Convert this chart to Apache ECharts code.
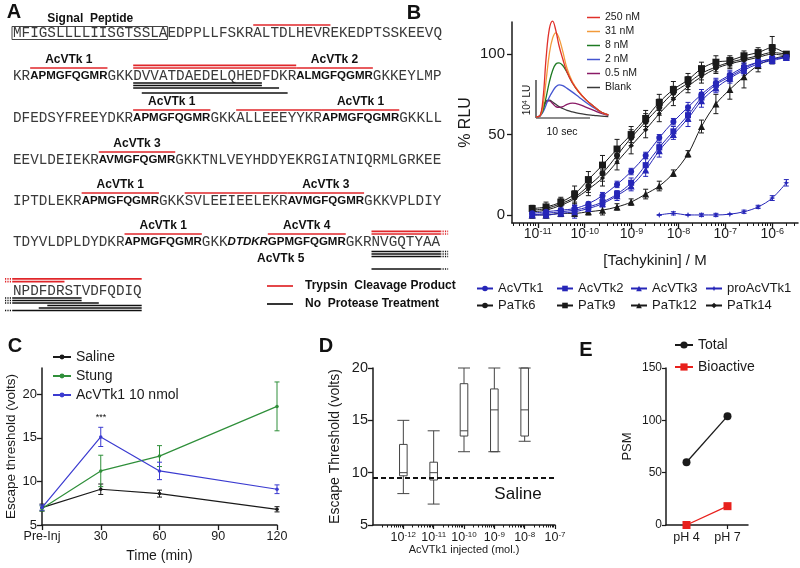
<!DOCTYPE html>
<html>
<head>
<meta charset="utf-8">
<script src="https://cdn.jsdelivr.net/npm/echarts@6/dist/echarts.min.js"></script>
<style>
html, body { margin: 0; padding: 0; background: #fff; }
#chart { width: 800px; height: 568px; }
</style>
</head>
<body>
<div id="chart"></div>
<script>
const SANS = '"Liberation Sans", Arial, sans-serif';
const MONO = '"Liberation Mono", "Courier New", monospace';
const BLUE = '#2626b8';
const INK = '#1a1a1a';

// ---------- panel A: precursor sequence ----------
// segments: m = plain residues, b = bold peptide, bi = bold italic
const seqRows = [
  [['MFIGSLLLLIISGTSSLAEDPPLLFSKRALTDLHEVREKEDPTSSKEEVQ', 'm']],
  [['KR', 'm'], ['APMGFQGMR', 'b'], ['GKKDVVATDAEDELQHEDFDKR', 'm'], ['ALMGFQGMR', 'b'], ['GKKEYLMP', 'm']],
  [['DFEDSYFREEYDKR', 'm'], ['APMGFQGMR', 'b'], ['GKKALLEEEYYKR', 'm'], ['APMGFQGMR', 'b'], ['GKKLL', 'm']],
  [['EEVLDEIEKR', 'm'], ['AVMGFQGMR', 'b'], ['GKKTNLVEYHDDYEKRGIATNIQRMLGRKEE', 'm']],
  [['IPTDLEKR', 'm'], ['APMGFQGMR', 'b'], ['GKKSVLEEIEELEKR', 'm'], ['AVMGFQGMR', 'b'], ['GKKVPLDIY', 'm']],
  [['TDYVLDPLDYDKR', 'm'], ['APMGFQGMR', 'b'], ['GKK', 'm'], ['DTDKR', 'bi'], ['GPMGFQGMR', 'b'], ['GKRNVGQTYAA', 'm']],
  [['NPDFDRSTVDFQDIQ', 'm']]
];
// [row, firstResidue, endResidue, label]
const peptideTags = [
  [1, 2, 11, 'AcVTk 1'], [1, 33, 42, 'AcVTk 2'],
  [2, 14, 23, 'AcVTk 1'], [2, 36, 45, 'AcVTk 1'],
  [3, 10, 19, 'AcVTk 3'],
  [4, 8, 17, 'AcVTk 1'], [4, 32, 41, 'AcVTk 3'],
  [5, 13, 22, 'AcVTk 1'], [5, 30, 39, 'AcVTk 4']
];
// [row, first, end, stack level, continues ('L' / 'R' / '')]
const trypsinHits = [
  [0, 28, 37, 0, ''],
  [1, 14, 33, 0, ''], [1, 14, 33, 1, ''],
  [2, 26, 36, 0, ''],
  [4, 20, 32, 0, ''],
  [5, 42, 50, 0, 'R'], [5, 42, 50, 1, 'R'],
  [6, 0, 15, 1.6, 'L'], [6, 0, 6, 0.5, 'L']
];
const nativeHits = [
  [1, 14, 29, 0, ''], [1, 14, 29, 1, ''], [1, 14, 31, 2, ''], [1, 15, 32, 4, ''],
  [5, 42, 50, 1, 'R'], [5, 42, 50, 2, 'R'], [5, 42, 50, 3, 'R'], [5, 42, 50, 8, 'R'],
  [6, 0, 8, 0, 'L'], [6, 0, 8, 1, 'L'], [6, 0, 10, 2, 'L'], [6, 4, 15, 3, ''], [6, 3, 15, 4, ''], [6, 0, 15, 5, 'L']
];
const signalPeptide = [0, 0, 18, 'Signal  Peptide'];
const acvtk5Tag = [5, 25, 39, 'AcVTk 5'];

// ---------- panel B: dose response ----------
const doseB = [7.6e-12, 1.5e-11, 3.1e-11, 6.1e-11, 1.2e-10, 2.4e-10, 4.9e-10, 9.8e-10, 2.0e-9, 3.9e-9,
  7.8e-9, 1.6e-8, 3.1e-8, 6.3e-8, 1.25e-7, 2.5e-7, 5.0e-7, 1.0e-6, 2.0e-6];
const acvtk1 = [1, 2, 3, 4, 7, 12, 19, 27, 37, 48, 58, 67, 75, 82, 87, 92, 95, 97, 98];
const acvtk2 = [0, 1, 2, 3, 5, 8, 13, 20, 31, 42, 52, 62, 73, 81, 86, 91, 95, 97, 98];
const acvtk3 = [0, 0, 1, 2, 4, 7, 12, 18, 28, 40, 50, 60, 71, 79, 85, 90, 94, 96, 98];
const proAcvtk1 = [0, 1, 0, 0, 0, 0.5, 2, 5, 10.5, 20];
const doseProAcvtk1 = doseB.slice(9);
const patk6 = [3, 4, 7, 11, 18, 26, 37, 48, 58, 67, 76, 82, 88, 92, 95, 97, 99, 101, 100];
const patk9 = [4, 5, 8, 13, 22, 31, 41, 50, 60, 70, 78, 84, 91, 95, 96, 99, 101, 104, 100];
const patk12 = [0, 0, 1, 1, 2, 3, 5, 8, 13, 18, 26, 38, 55, 69, 78, 86, 93, 97, 99];
const patk14 = [2, 3, 6, 10, 16, 23, 33, 43, 53, 63, 72, 80, 86, 91, 94, 96, 98, 100, 99];
const errAcvtk1 = [1, 1, 2, 2, 1, 2, 2, 2, 2, 2, 2, 3, 3, 3, 3, 3, 2, 2, 1];
const errAcvtk2 = [1, 2, 2, 3, 2, 2, 2, 3, 4, 3, 3, 3, 3, 3, 3, 3, 2, 2, 1];
const errAcvtk3 = [1, 1, 2, 4, 2, 2, 3, 3, 4, 4, 3, 5, 4, 3, 3, 3, 3, 2, 1];
const errProAcvtk1 = [0, 1, 0, 1, 1, 0, 1, 1, 1.5, 2];
const errPatk6 = [2, 2, 3, 4, 4, 5, 5, 5, 5, 5, 4, 4, 4, 3, 3, 3, 3, 5, 1];
const errPatk9 = [2, 3, 3, 5, 5, 6, 6, 5, 5, 5, 5, 4, 4, 4, 3, 3, 3, 7, 1];
const errPatk12 = [2, 2, 2, 2, 2, 3, 2, 2, 3, 3, 2, 2, 4, 6, 6, 7, 4, 3, 1];
const errPatk14 = [2, 2, 3, 4, 4, 5, 5, 5, 5, 5, 4, 4, 4, 3, 3, 3, 3, 4, 1];
const decadesB = [-11, -10, -9, -8, -7, -6];

// inset: luminescence traces (x 10^4 LU) vs time (s)
const traceTime = [0, 0.7, 1.3, 1.9, 2.5, 3.1, 3.7, 4.3, 5.0, 5.8, 6.8, 8.0, 9.4, 10.8, 12.2, 13.5];
const trace250 = [0.03, 0.05, 0.5, 1.6, 2.35, 2.55, 2.3, 1.9, 1.55, 1.2, 0.92, 0.68, 0.47, 0.3, 0.15, 0.08];
const trace31 = [0.03, 0.05, 0.3, 1.0, 1.7, 2.1, 2.24, 2.1, 1.75, 1.3, 0.95, 0.69, 0.47, 0.3, 0.15, 0.08];
const trace8 = [0.03, 0.05, 0.2, 0.55, 0.95, 1.25, 1.42, 1.45, 1.38, 1.2, 0.92, 0.68, 0.47, 0.3, 0.15, 0.08];
const trace2 = [0.03, 0.05, 0.15, 0.35, 0.55, 0.7, 0.82, 0.87, 0.85, 0.78, 0.68, 0.55, 0.4, 0.27, 0.15, 0.08];
const trace05 = [0.03, 0.05, 0.25, 0.42, 0.45, 0.38, 0.3, 0.28, 0.3, 0.36, 0.39, 0.36, 0.28, 0.2, 0.12, 0.07];
const traceBlank = [0.03, 0.05, 0.3, 0.45, 0.47, 0.42, 0.36, 0.3, 0.25, 0.2, 0.16, 0.12, 0.09, 0.07, 0.05, 0.04];

// ---------- panel C: escape threshold time course ----------
const timeC = [0, 30, 60, 120];
const saline = [7.0, 9.1, 8.6, 6.8];
const salineErr = [0.4, 0.6, 0.4, 0.3];
const stung = [6.9, 11.2, 12.9, 18.6];
const stungErr = [0.3, 1.8, 1.2, 2.8];
const acvtkDose = [7.0, 15.1, 11.2, 9.1];
const acvtkDoseErr = [0.3, 1.1, 1.0, 0.5];

// ---------- panel D: dose vs threshold boxes ----------
const doseD = [1e-12, 1e-11, 1e-10, 1e-9, 1e-8];
// [min, q1, median, q3, max]
const boxD = [[8, 9.7, 10, 12.7, 15], [7, 9.3, 10, 11, 14], [12, 13.5, 14, 18.5, 20], [12, 12, 16, 18, 20], [13, 13.5, 16, 20, 20]];
const salineLevel = 9.5;
const decadesD = [-12, -11, -10, -9, -8, -7];

// ---------- panel E: PSM ----------
const phCats = ['pH 4', 'pH 7'];
const psmTotal = [60, 104];
const psmBioactive = [0, 18];

// ---------- helpers ----------
const lg = v => Math.log10(v);
function minorTicks(lo, hi) {
  const out = [];
  for (let n = Math.floor(lo); n <= Math.ceil(hi); n++) {
    for (let k = 2; k <= 9; k++) {
      const t = n + Math.log10(k);
      if (t > lo && t < hi) out.push(t);
    }
  }
  return out;
}
const powRich = {
  b: { fontSize: 14, fontFamily: SANS, color: INK },
  s: { fontSize: 9, fontFamily: SANS, color: INK, verticalAlign: 'top' }
};
const powLabel = v => '{b|10}{s|' + Math.round(v) + '}';

function errorBars(xi, yi, pts, color, cap) {
  return {
    type: 'custom', xAxisIndex: xi, yAxisIndex: yi, silent: true, z: 3,
    data: pts,
    renderItem: (params, api) => {
      const x = api.value(0), y = api.value(1), e = api.value(2);
      const hi = api.coord([x, y + e]), lo = api.coord([x, y - e]);
      const st = { stroke: color, lineWidth: 1 };
      return {
        type: 'group', children: [
          { type: 'line', shape: { x1: hi[0], y1: hi[1], x2: lo[0], y2: lo[1] }, style: st },
          { type: 'line', shape: { x1: hi[0] - cap, y1: hi[1], x2: hi[0] + cap, y2: hi[1] }, style: st },
          { type: 'line', shape: { x1: lo[0] - cap, y1: lo[1], x2: lo[0] + cap, y2: lo[1] }, style: st }
        ]
      };
    }
  };
}

function axisStyle(extra) {
  return Object.assign({
    axisLine: { show: true, onZero: false, lineStyle: { color: INK, width: 1.5 } },
    axisTick: { show: true, inside: false, length: 5, lineStyle: { color: INK, width: 1.3 } },
    splitLine: { show: false },
    nameMoveOverlap: false
  }, extra);
}

// ---------- build panel A graphics ----------
const rowY = [33, 76, 118, 160, 201, 242, 291];
const SEQ_LEFT = 13;
const fontOf = {
  m: '14.3px ' + MONO,
  b: 'bold 11.5px ' + SANS,
  bi: 'italic bold 11.5px ' + SANS
};
const graphics = [];
const measure = document.createElement('canvas').getContext('2d');
const residueX = seqRows.map((row, r) => {
  let x = SEQ_LEFT;
  const bounds = [x];
  row.forEach(([txt, st]) => {
    graphics.push({
      type: 'text', silent: true,
      style: { x: x, y: rowY[r], text: txt, font: fontOf[st], fill: st === 'm' ? '#3a3a3a' : '#111',
        verticalAlign: 'middle', textVerticalAlign: 'middle' }
    });
    measure.font = fontOf[st];
    for (let i = 1; i <= txt.length; i++) bounds.push(x + measure.measureText(txt.slice(0, i)).width);
    x += measure.measureText(txt).width;
  });
  return bounds;
});
function label(x, y, text, size, extra) {
  graphics.push({
    type: 'text', silent: true,
    style: Object.assign({ x: x, y: y, text: text, font: 'bold ' + size + 'px ' + SANS, fill: '#111',
      align: 'center', textAlign: 'center', verticalAlign: 'middle', textVerticalAlign: 'middle' }, extra || {})
  });
}
function seg(x1, y, x2, color, w) {
  graphics.push({ type: 'line', silent: true, shape: { x1: x1, y1: y, x2: x2, y2: y }, style: { stroke: color, lineWidth: w } });
}
function hitLine(h, color, above) {
  const [r, a, b, lvl, cont] = h;
  const xs = residueX[r];
  const y = above ? rowY[r] - 8 - 2.6 * lvl : rowY[r] + 7 + 2.5 * lvl;
  seg(xs[a], y, xs[b], color, 1.7);
  const dash = { stroke: color, lineWidth: 1.7, lineDash: [1.2, 1.2] };
  if (cont === 'R') graphics.push({ type: 'line', silent: true, shape: { x1: xs[b], y1: y, x2: xs[b] + 8, y2: y }, style: dash });
  if (cont === 'L') graphics.push({ type: 'line', silent: true, shape: { x1: xs[a] - 8, y1: y, x2: xs[a], y2: y }, style: dash });
}
peptideTags.forEach(([r, a, b, t]) => {
  const xs = residueX[r];
  seg(xs[a], rowY[r] - 8, xs[b], '#e0262a', 1.7);
  label((xs[a] + xs[b]) / 2, rowY[r] - 16, t, 12);
});
trypsinHits.forEach(h => hitLine(h, '#e0262a', true));
nativeHits.forEach(h => hitLine(h, '#111', false));
{
  const [r, a, b, t] = signalPeptide;
  const xs = residueX[r];
  graphics.push({ type: 'rect', silent: true, shape: { x: xs[a] - 1, y: rowY[r] - 6.5, width: xs[b] - xs[a] + 1, height: 13 },
    style: { fill: 'none', stroke: '#444', lineWidth: 1 } });
  label((xs[a] + xs[b]) / 2, rowY[r] - 14, t, 12);
}
{
  const [r, a, b, t] = acvtk5Tag;
  const xs = residueX[r];
  label((xs[a] + xs[b]) / 2 - 6, rowY[r] + 17, t, 12);
}
seg(267, 286, 293, '#e0262a', 1.7);
seg(267, 304, 293, '#111', 1.7);
label(305, 286, 'Trypsin  Cleavage Product', 12, { align: 'left', textAlign: 'left' });
label(305, 304, 'No  Protease Treatment', 12, { align: 'left', textAlign: 'left' });

// panel letters
[['A', 14, 12], ['B', 414, 13], ['C', 15, 346], ['D', 326, 346], ['E', 586, 350]].forEach(([t, x, y]) => label(x, y, t, 20));

// inset scale bars
seg(536, 118, 590, INK, 1.2);
graphics.push({ type: 'line', silent: true, shape: { x1: 536, y1: 80, x2: 536, y2: 118 }, style: { stroke: INK, lineWidth: 1.2 } });
graphics.push({ type: 'text', silent: true, rotation: Math.PI / 2, x: 527, y: 100,
  style: { x: 0, y: 0, text: '{a|10}{p|4}{a| LU}', fill: INK, align: 'center', textAlign: 'center', verticalAlign: 'middle', textVerticalAlign: 'middle',
    rich: { a: { fontSize: 10, fontFamily: SANS, fill: INK }, p: { fontSize: 7, fontFamily: SANS, fill: INK, verticalAlign: 'top' } } } });
label(562, 132, '10 sec', 10.5, { font: '10.5px ' + SANS });
label(101, 418, '***', 9, { font: '9px ' + SANS });
label(518, 494, 'Saline', 17, { font: '17px ' + SANS });

// ---------- series ----------
const series = [];
const bDefs = [
  ['PaTk12', patk12, errPatk12, INK, 'triangle', 7],
  ['PaTk14', patk14, errPatk14, INK, 'diamond', 5],
  ['PaTk6', patk6, errPatk6, INK, 'circle', 6],
  ['PaTk9', patk9, errPatk9, INK, 'rect', 7],
  ['AcVTk3', acvtk3, errAcvtk3, BLUE, 'triangle', 7],
  ['AcVTk2', acvtk2, errAcvtk2, BLUE, 'rect', 6],
  ['AcVTk1', acvtk1, errAcvtk1, BLUE, 'circle', 6]
];
bDefs.forEach(([name, vals, errs, color, sym, size]) => {
  series.push(errorBars(0, 0, doseB.map((d, i) => [lg(d), vals[i], errs[i]]), color, 2.5));
  series.push({
    name: name, type: 'line', xAxisIndex: 0, yAxisIndex: 0, smooth: 0.35,
    symbol: sym, symbolSize: size, showAllSymbol: true,
    itemStyle: { color: color }, lineStyle: { color: color, width: 1 },
    data: doseB.map((d, i) => [lg(d), vals[i]]), z: 4
  });
});
series.push(errorBars(0, 0, doseProAcvtk1.map((d, i) => [lg(d), proAcvtk1[i], errProAcvtk1[i]]), BLUE, 2.5));
series.push({
  name: 'proAcVTk1', type: 'line', xAxisIndex: 0, yAxisIndex: 0, smooth: 0.35,
  symbol: 'path://M0,-5L1.4,-1.4L5,0L1.4,1.4L0,5L-1.4,1.4L-5,0L-1.4,-1.4Z', symbolSize: 6,
  itemStyle: { color: BLUE }, lineStyle: { color: BLUE, width: 1 },
  data: doseProAcvtk1.map((d, i) => [lg(d), proAcvtk1[i]]), z: 4
});

const insetDefs = [
  ['Blank', traceBlank, '#3a3a3a'], ['0.5 nM', trace05, '#8a1a66'], ['2 nM', trace2, '#4455d0'],
  ['8 nM', trace8, '#1d7a22'], ['31 nM', trace31, '#f29a3a'], ['250 nM', trace250, '#e0302a']
];
insetDefs.forEach(([name, vals, color]) => {
  series.push({
    name: name, type: 'line', xAxisIndex: 2, yAxisIndex: 1, smooth: 0.4, symbol: 'none',
    itemStyle: { color: color }, lineStyle: { color: color, width: 1.3 },
    data: traceTime.map((t, i) => [t, vals[i]])
  });
});

const cDefs = [
  ['Saline', saline, salineErr, INK],
  ['Stung', stung, stungErr, '#2f8f3a'],
  ['AcVTk1 10 nmol', acvtkDose, acvtkDoseErr, '#3b3bd0']
];
cDefs.forEach(([name, vals, errs, color]) => {
  series.push(errorBars(3, 2, timeC.map((t, i) => [t, vals[i], errs[i]]), color, 2.5));
  series.push({
    name: name, type: 'line', xAxisIndex: 3, yAxisIndex: 2, symbol: 'circle', symbolSize: 3.5,
    itemStyle: { color: color }, lineStyle: { color: color, width: 1.2 },
    data: timeC.map((t, i) => [t, vals[i]])
  });
});

series.push({
  type: 'custom', xAxisIndex: 4, yAxisIndex: 3, silent: true,
  data: doseD.map((d, i) => [lg(d)].concat(boxD[i])),
  renderItem: (params, api) => {
    const x = api.value(0);
    const p = [1, 2, 3, 4, 5].map(k => api.coord([x, api.value(k)]));
    const cx = p[0][0], hw = 3.8, cap = 6;
    const st = { stroke: '#444', lineWidth: 1, fill: 'none' };
    return {
      type: 'group', children: [
        { type: 'line', shape: { x1: cx, y1: p[0][1], x2: cx, y2: p[1][1] }, style: st },
        { type: 'line', shape: { x1: cx, y1: p[3][1], x2: cx, y2: p[4][1] }, style: st },
        { type: 'line', shape: { x1: cx - cap, y1: p[0][1], x2: cx + cap, y2: p[0][1] }, style: st },
        { type: 'line', shape: { x1: cx - cap, y1: p[4][1], x2: cx + cap, y2: p[4][1] }, style: st },
        { type: 'rect', shape: { x: cx - hw, y: p[3][1], width: 2 * hw, height: p[1][1] - p[3][1] }, style: st },
        { type: 'line', shape: { x1: cx - hw, y1: p[2][1], x2: cx + hw, y2: p[2][1] }, style: st }
      ]
    };
  }
});
series.push({
  type: 'line', xAxisIndex: 4, yAxisIndex: 3, symbol: 'none', silent: true,
  lineStyle: { color: '#111', width: 2, type: [5, 3] },
  data: [[-13, salineLevel], [-7, salineLevel]]
});

series.push({
  name: 'Total', type: 'line', xAxisIndex: 6, yAxisIndex: 4, symbol: 'circle', symbolSize: 8,
  itemStyle: { color: INK }, lineStyle: { color: INK, width: 1.3 }, data: psmTotal
});
series.push({
  name: 'Bioactive', type: 'line', xAxisIndex: 6, yAxisIndex: 4, symbol: 'rect', symbolSize: 8,
  itemStyle: { color: '#e8201c' }, lineStyle: { color: '#e8201c', width: 1.3 }, data: psmBioactive
});

// ---------- legends ----------
const legendText = size => ({ fontSize: size, fontFamily: SANS, color: INK });
const legends = [
  [['AcVTk1', 'PaTk6'], 476], [['AcVTk2', 'PaTk9'], 556], [['AcVTk3', 'PaTk12'], 630], [['proAcVTk1', 'PaTk14'], 705]
].map(([names, left]) => ({
  data: names, left: left, top: 282, orient: 'vertical', itemWidth: 16, itemHeight: 7, itemGap: 4,
  padding: 0, textStyle: legendText(13), selectedMode: false
}));
legends.push({
  data: ['250 nM', '31 nM', '8 nM', '2 nM', '0.5 nM', 'Blank'], left: 587, top: 12, orient: 'vertical',
  icon: 'rect', itemWidth: 13, itemHeight: 1.5, itemGap: 3, padding: 0, textStyle: legendText(10.5), selectedMode: false
});
legends.push({
  data: ['Saline', 'Stung', 'AcVTk1 10 nmol'], left: 52, top: 350, orient: 'vertical',
  itemWidth: 18, itemHeight: 6, itemGap: 5, padding: 0, textStyle: legendText(14), selectedMode: false
});
legends.push({
  data: ['Total', 'Bioactive'], left: 674, top: 338, orient: 'vertical',
  itemWidth: 18, itemHeight: 9, itemGap: 8, padding: 0, textStyle: legendText(14), selectedMode: false
});

// ---------- axes ----------
const B_MIN = -11.55, B_MAX = -5.45;
const D_MIN = -13, D_MAX = -7;
const option = {
  animation: false,
  backgroundColor: '#fff',
  textStyle: { fontFamily: SANS },
  grid: [
    { left: 512, top: 22, width: 286, height: 201 },
    { left: 536, top: 10, width: 75, height: 108 },
    { left: 42, top: 368, width: 235, height: 157 },
    { left: 373, top: 368, width: 182, height: 157 },
    { left: 666, top: 368, width: 82, height: 157 }
  ],
  xAxis: [
    axisStyle({ type: 'value', gridIndex: 0, min: B_MIN, max: B_MAX, position: 'bottom',
      name: '[Tachykinin] / M', nameLocation: 'middle', nameGap: 30, nameTextStyle: { fontSize: 15, color: INK },
      axisTick: { show: true, length: 5, customValues: decadesB, lineStyle: { color: INK, width: 1.3 } },
      axisLabel: { customValues: decadesB, formatter: powLabel, rich: powRich, margin: 4 } }),
    { type: 'value', gridIndex: 0, min: B_MIN, max: B_MAX, position: 'bottom', offset: 0,
      axisLine: { show: false, onZero: false }, splitLine: { show: false }, axisLabel: { show: false },
      axisTick: { show: true, length: 3, customValues: minorTicks(B_MIN, B_MAX), lineStyle: { color: INK, width: 1 } } },
    { type: 'value', gridIndex: 1, min: 0, max: 14, show: false },
    axisStyle({ type: 'value', gridIndex: 2, min: 0, max: 120, interval: 30,
      name: 'Time (min)', nameLocation: 'middle', nameGap: 24, nameTextStyle: { fontSize: 14, color: INK },
      axisLabel: { fontSize: 12.5, color: INK, margin: 5, formatter: v => (v === 0 ? 'Pre-Inj' : String(v)) } }),
    axisStyle({ type: 'value', gridIndex: 3, min: D_MIN, max: D_MAX, position: 'bottom',
      name: 'AcVTk1 injected (mol.)', nameLocation: 'middle', nameGap: 19, nameTextStyle: { fontSize: 11, color: INK },
      axisTick: { show: true, length: 4, customValues: decadesD, lineStyle: { color: INK, width: 1.2 } },
      axisLabel: { customValues: decadesD, formatter: powLabel, rich: {
        b: { fontSize: 12.5, fontFamily: SANS, color: INK }, s: { fontSize: 8, fontFamily: SANS, color: INK, verticalAlign: 'top' } }, margin: 6 } }),
    { type: 'value', gridIndex: 3, min: D_MIN, max: D_MAX, position: 'bottom', offset: 0,
      axisLine: { show: false, onZero: false }, splitLine: { show: false }, axisLabel: { show: false },
      axisTick: { show: true, length: 2.5, customValues: minorTicks(D_MIN, D_MAX), lineStyle: { color: INK, width: 1 } } },
    axisStyle({ type: 'category', gridIndex: 4, data: phCats, boundaryGap: true,
      axisTick: { show: true, alignWithLabel: true, length: 4, lineStyle: { color: INK, width: 1.2 } },
      axisLabel: { fontSize: 12.5, color: INK, margin: 6 } })
  ],
  yAxis: [
    axisStyle({ type: 'value', gridIndex: 0, min: -5, max: 120,
      name: '% RLU', nameLocation: 'middle', nameGap: 38, nameTextStyle: { fontSize: 16, color: INK },
      axisTick: { show: true, length: 5, customValues: [0, 50, 100], lineStyle: { color: INK, width: 1.3 } },
      axisLabel: { customValues: [0, 50, 100], fontSize: 15, color: INK, margin: 7 } }),
    { type: 'value', gridIndex: 1, min: 0, max: 2.84, show: false },
    axisStyle({ type: 'value', gridIndex: 2, min: 5, max: 23,
      name: 'Escape threshold (volts)', nameLocation: 'middle', nameGap: 24, nameTextStyle: { fontSize: 13.5, color: INK },
      axisTick: { show: true, length: 5, customValues: [5, 10, 15, 20], lineStyle: { color: INK, width: 1.3 } },
      axisLabel: { customValues: [5, 10, 15, 20], fontSize: 13, color: INK, margin: 5 } }),
    axisStyle({ type: 'value', gridIndex: 3, min: 5, max: 20, interval: 5,
      name: 'Escape Threshold (volts)', nameLocation: 'middle', nameGap: 31, nameTextStyle: { fontSize: 14, color: INK },
      axisLabel: { fontSize: 14.5, color: INK, margin: 5 } }),
    axisStyle({ type: 'value', gridIndex: 4, min: 0, max: 150, interval: 50,
      name: 'PSM', nameLocation: 'middle', nameGap: 32, nameTextStyle: { fontSize: 13, color: INK },
      axisTick: { show: true, length: 4, lineStyle: { color: INK, width: 1.2 } },
      axisLabel: { fontSize: 12, color: INK, margin: 4 } })
  ],
  legend: legends,
  series: series,
  graphic: { elements: graphics }
};

const chart = echarts.init(document.getElementById('chart'), null, { renderer: 'canvas' });
chart.setOption(option);
</script>
</body>
</html>
